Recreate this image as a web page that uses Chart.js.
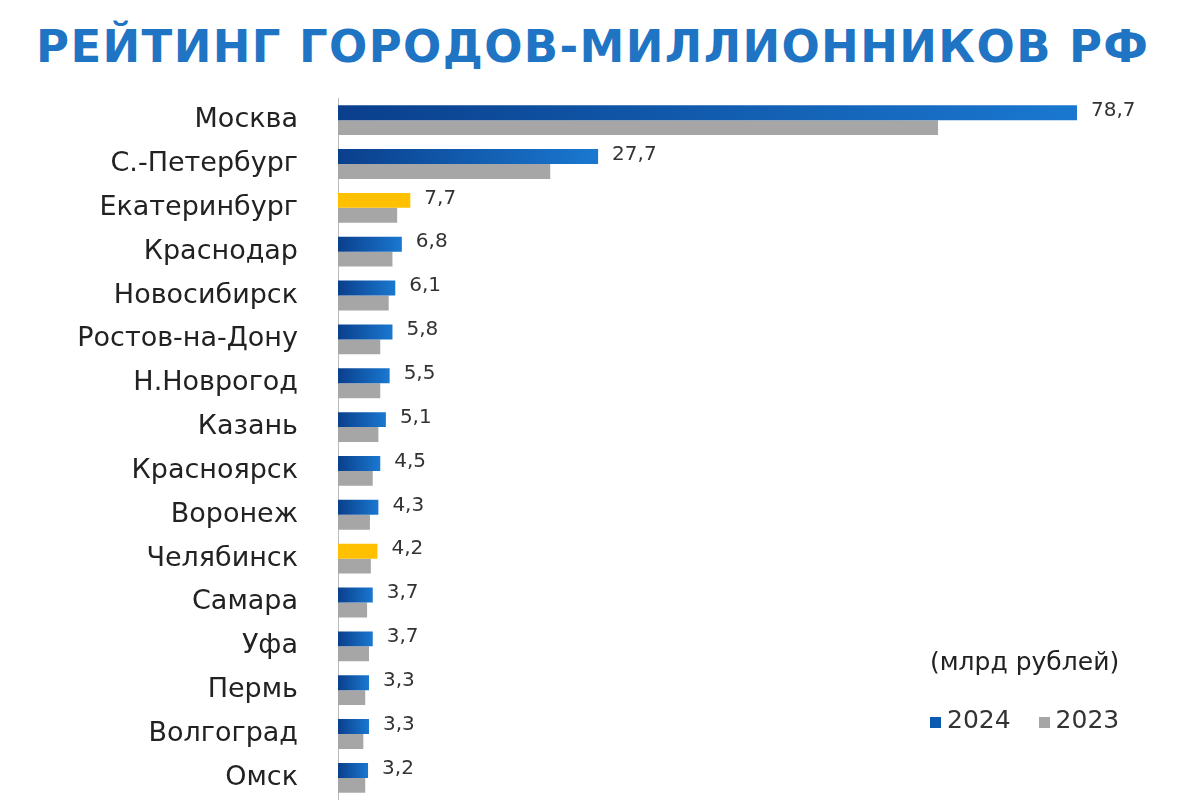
<!DOCTYPE html><html><head><meta charset="utf-8">
<script src="https://cdn.jsdelivr.net/npm/chart.js@4/dist/chart.umd.min.js"></script>
<style>
body{margin:0;width:1200px;height:800px;background:#fff;position:relative;overflow:hidden;font-family:"DejaVu Sans",sans-serif}
#t{position:absolute;left:36px;top:20px;font-weight:bold;font-size:45px;color:#1f74c4;letter-spacing:1.4px;white-space:nowrap}
#c{position:absolute;left:0;top:50px}
#u{position:absolute;left:930px;top:647px;font-size:25px;color:#222}
#l{position:absolute;left:930px;top:705px;font-size:25px;color:#333}
.s{display:inline-block;width:11px;height:11px;margin-right:6px}
</style></head><body>
<div id="t">РЕЙТИНГ ГОРОДОВ-МИЛЛИОННИКОВ РФ</div>
<canvas id="c" width="1200" height="798"></canvas>
<div id="u">(млрд рублей)</div>
<div id="l"><span class="s" style="background:#0b5cb0"></span>2024 <span class="s" style="background:#a6a6a6;margin-left:20px"></span>2023</div>
<script>
const cities=["Москва","С.-Петербург","Екатеринбург","Краснодар","Новосибирск","Ростов-на-Дону","Н.Новрогод","Казань","Красноярск","Воронеж","Челябинск","Самара","Уфа","Пермь","Волгоград","Омск"];
const v2024=[78.7,27.7,7.7,6.8,6.1,5.8,5.5,5.1,4.5,4.3,4.2,3.7,3.7,3.3,3.3,3.2];
const v2023=[63.9,22.6,6.3,5.8,5.4,4.5,4.5,4.3,3.7,3.4,3.5,3.1,3.3,2.9,2.7,2.9];
const highlight=["Екатеринбург","Челябинск"];
function blue(ctx,i){
  if(highlight.includes(cities[i]))return "#ffc000";
  const a=ctx.chart.chartArea;if(!a)return "#0b5cb0";
  const x1=ctx.chart.scales.x.getPixelForValue(v2024[i]);
  const g=ctx.chart.ctx.createLinearGradient(a.left,0,x1,0);
  g.addColorStop(0,"#0a3f8c");g.addColorStop(1,"#1a78d0");return g;
}
const lbl={id:"lbl",afterDatasetsDraw(ch){const c=ch.ctx,m=ch.getDatasetMeta(0);c.save();c.font="20px 'DejaVu Sans'";c.fillStyle="#333";c.textBaseline="middle";
m.data.forEach((b,i)=>{c.fillText(v2024[i].toFixed(1).replace(".",","),b.x+14,b.y-2);});c.restore();}};
new Chart(document.getElementById("c"),{type:"bar",data:{labels:cities,datasets:[
{data:v2024,backgroundColor:c=>blue(c,c.dataIndex),barPercentage:1,categoryPercentage:0.68},
{data:v2023,backgroundColor:"#a6a6a6",barPercentage:1,categoryPercentage:0.68}]},
options:{indexAxis:"y",responsive:false,animation:false,
plugins:{legend:{display:false},tooltip:{enabled:false}},
scales:{x:{display:false,min:0,max:91.8},
y:{afterFit(s){s.width=338},grid:{display:false},border:{color:"#bbb"},ticks:{padding:32,color:"#222",font:{size:27,family:"'DejaVu Sans'"}}}}},
plugins:[lbl]});
</script></body></html>
